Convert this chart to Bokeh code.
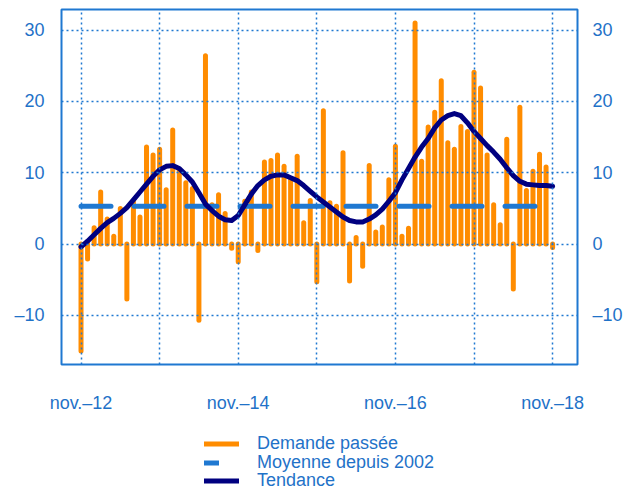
from bokeh.plotting import figure
from bokeh.layouts import column
from bokeh.models import (Range1d, FixedTicker, LinearAxis, Legend, LegendItem,
                          ColumnDataSource)
from bokeh.embed import file_html
from bokeh.resources import INLINE

# ---------------- data ----------------
# monthly index: 0 = nov. 2012 ... 72 = nov. 2018
months = list(range(73))

demand = [
    -15.0, -2.1, 2.3, 7.3, 3.5, 1.1, 5.0, -7.7, 5.9, 3.8,
    13.6, 12.5, 13.3, 7.6, 16.0, 10.5, 8.6, 7.8, -10.7, 26.4,
    5.5, 6.9, 4.3, -0.6, -2.5, 6.0, 7.3, -0.9, 11.5, 11.7,
    12.5, 10.9, 9.0, 12.3, 3.0, 6.1, -5.3, 18.7, 5.8, 5.3,
    12.8, -5.2, 0.9, -3.1, 11.0, 1.7, 2.4, 9.0, 13.7, 1.1,
    2.2, 31.0, 11.6, 16.4, 18.5, 22.9, 14.2, 13.3, 16.5, 15.8,
    24.1, 21.9, 12.5, 5.5, 2.7, 14.7, -6.3, 19.2, 7.5, 10.2,
    12.6, 10.8, -0.5,
]

trend = [
    -0.4, 0.4, 1.3, 2.2, 3.0, 3.6, 4.3, 5.1, 6.2, 7.3,
    8.4, 9.5, 10.4, 10.9, 11.0, 10.6, 9.7, 8.7, 7.2, 5.6,
    4.7, 3.9, 3.4, 3.3, 4.0, 5.5, 7.0, 8.2, 9.0, 9.5,
    9.7, 9.7, 9.3, 8.9, 8.2, 7.4, 6.6, 5.9, 5.2, 4.5,
    3.8, 3.3, 3.1, 3.1, 3.5, 4.1, 4.9, 6.0, 7.2, 9.0,
    10.6, 12.2, 13.6, 14.8, 16.3, 17.4, 18.0, 18.3, 18.0, 17.0,
    15.8, 14.8, 13.8, 12.9, 11.9, 10.7, 9.6, 8.8, 8.4, 8.3,
    8.2, 8.2, 8.1,
]

mean_x = [0, 72]
mean_y = [5.3, 5.3]

x_tick_months = [0, 24, 48, 72]
x_tick_labels = ["nov.\u201312", "nov.\u201314", "nov.\u201316", "nov.\u201318"]
x_grid_months = [0, 12, 24, 36, 48, 60, 72]
y_ticks = [-10, 0, 10, 20, 30]
y_tick_labels = ["\u201310", "0", "10", "20", "30"]
legend_labels = ["Demande pass\u00e9e", "Moyenne depuis 2002", "Tendance"]

# ---------------- style ----------------
TEXT_BLUE = "#1f72c8"
LINE_BLUE = "#1f78d1"
ORANGE = "#ff8c00"
NAVY = "#000080"
FONT = "Liberation Sans"

src = ColumnDataSource(dict(month=months, demand=demand, trend=trend))
mean_src = ColumnDataSource(dict(x=mean_x, y=mean_y))

p = figure(width=625, height=420,
           x_range=Range1d(-2.98, 75.8), y_range=Range1d(-16.9, 32.9),
           output_backend="svg", toolbar_location=None,
           min_border_left=61, min_border_right=48,
           min_border_top=9, min_border_bottom=56)
p.background_fill_color = "white"
p.border_fill_color = "white"
p.outline_line_color = LINE_BLUE
p.outline_line_width = 2
p.outline_line_alpha = 1.0

p.segment(x0="month", y0=0, x1="month", y1="demand", source=src,
          line_color=ORANGE, line_width=5, line_cap="round")
p.line(x="x", y="y", source=mean_src, line_color=LINE_BLUE, line_width=5,
       line_dash="30 23", line_cap="round")
p.line(x="month", y="trend", source=src, line_color=NAVY, line_width=5,
       line_cap="round", line_join="round")

# axes
def style_axis(ax):
    ax.axis_line_color = None
    ax.major_tick_line_color = None
    ax.minor_tick_line_color = None
    ax.major_tick_out = 0
    ax.major_tick_in = 0
    ax.major_label_text_color = TEXT_BLUE
    ax.major_label_text_font = FONT
    ax.major_label_text_font_size = "18px"

xax = p.xaxis[0]
xax.ticker = FixedTicker(ticks=x_tick_months)
xax.major_label_overrides = dict(zip(x_tick_months, x_tick_labels))
style_axis(xax)
xax.major_label_standoff = 28

yax = p.yaxis[0]
yax.ticker = FixedTicker(ticks=y_ticks)
yax.major_label_overrides = dict(zip(y_ticks, y_tick_labels))
style_axis(yax)
yax.major_label_standoff = 17

yax_r = LinearAxis(ticker=FixedTicker(ticks=y_ticks),
                   major_label_overrides=dict(zip(y_ticks, y_tick_labels)))
style_axis(yax_r)
yax_r.major_label_standoff = 15
p.add_layout(yax_r, "right")

# grid
p.xgrid.ticker = FixedTicker(ticks=x_grid_months)
p.ygrid.ticker = FixedTicker(ticks=y_ticks)
for g in (p.xgrid[0], p.ygrid[0]):
    g.grid_line_color = LINE_BLUE
    g.grid_line_width = 1.5
    g.grid_line_dash = "2 3"
    g.level = "guide"

# ---------------- legend strip below the chart ----------------
# same series, but this strip's ranges show none of the marks: only the legend
lg = figure(width=625, height=70, x_range=Range1d(200, 201), y_range=Range1d(200, 201),
            output_backend="svg", toolbar_location=None,
            x_axis_type=None, y_axis_type=None,
            min_border_left=0, min_border_right=0,
            min_border_top=0, min_border_bottom=0)
lg.grid.visible = False
lg.outline_line_color = None
lg.background_fill_color = "white"
lg.border_fill_color = "white"

k_bars = lg.segment(x0="month", y0=0, x1="month", y1="demand", source=src,
                    line_color=ORANGE, line_width=5, line_cap="round")
k_mean = lg.line(x="x", y="y", source=mean_src, line_color=LINE_BLUE, line_width=5,
                 line_cap="round")
k_trend = lg.line(x="month", y="trend", source=src, line_color=NAVY,
                  line_width=5, line_cap="round")

row_offsets = [36, 17.5, -1]
swatch_widths = [35, 15, 35]
for label, rend, off, gw in zip(legend_labels, [k_bars, k_mean, k_trend],
                                row_offsets, swatch_widths):
    leg = Legend(items=[LegendItem(label=label, renderers=[rend])],
                 location=(143, off), orientation="vertical",
                 glyph_width=gw, glyph_height=15, label_height=15,
                 label_standoff=18 + (35 - gw),
                 spacing=0, padding=0, margin=0,
                 border_line_color=None, background_fill_alpha=0,
                 label_text_font_size="18px", label_text_color=TEXT_BLUE,
                 label_text_font=FONT)
    lg.add_layout(leg)

layout = column(p, lg, spacing=0)
open("out.html", "w").write(file_html(layout, INLINE))
